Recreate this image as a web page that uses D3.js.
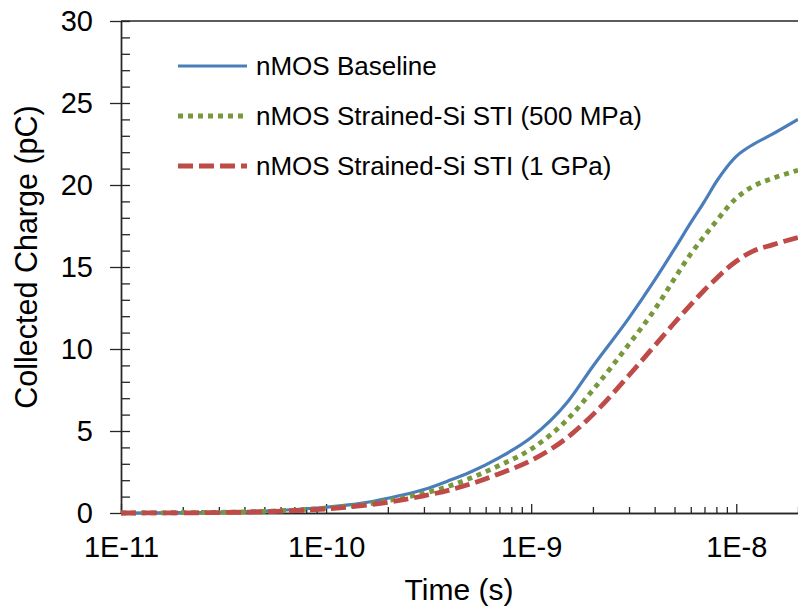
<!DOCTYPE html>
<html>
<head>
<meta charset="utf-8">
<script src="https://cdn.jsdelivr.net/npm/d3@7"></script>
<style>
  html, body { margin: 0; padding: 0; background: #fff; }
  svg { display: block; font-family: "Liberation Sans", Arial, sans-serif; }
</style>
</head>
<body>
<svg id="chart" width="798" height="611"></svg>
<script>
// Transient collected charge vs. time for three nMOS device variants
const times = [1e-11, 2e-11, 5e-11, 1e-10, 1.5e-10, 2e-10, 3e-10, 4e-10, 5e-10, 7e-10,
               1e-9, 1.5e-9, 2e-9, 3e-9, 4e-9, 5e-9, 6e-9, 7e-9, 8e-9, 9e-9,
               1e-8, 1.1e-8, 1.2e-8, 1.5e-8, 2e-8];

const baseline = [0, 0.02, 0.12, 0.35, 0.6, 0.9, 1.43, 1.99, 2.47, 3.38,
                  4.6, 6.75, 8.95, 11.9, 14.2, 16.1, 17.7, 19.0, 20.2, 21.1,
                  21.75, 22.15, 22.45, 23.1, 24.0];

const strained500 = [0, 0.02, 0.1, 0.3, 0.5, 0.75, 1.2, 1.65, 2.1, 2.9,
                     3.9, 5.7, 7.5, 10.3, 12.4, 14.3, 15.8, 16.9, 17.8, 18.6,
                     19.2, 19.6, 19.9, 20.4, 20.9];

const strained1G = [0, 0.01, 0.08, 0.25, 0.45, 0.65, 1.05, 1.4, 1.75, 2.4,
                    3.2, 4.6, 6.0, 8.4, 10.2, 11.6, 12.7, 13.6, 14.3, 14.9,
                    15.35, 15.7, 15.95, 16.35, 16.8];

const seriesNames = ["nMOS Baseline", "nMOS Strained-Si STI (500 MPa)", "nMOS Strained-Si STI (1 GPa)"];
const yTicks = [0, 5, 10, 15, 20, 25, 30];
const xTicks = [1e-11, 1e-10, 1e-9, 1e-8];
const xTickLabels = ["1E-11", "1E-10", "1E-9", "1E-8"];

const series = [
  { name: seriesNames[0], values: baseline,    color: "#4A7EBB", width: 3.2, dash: null },
  { name: seriesNames[1], values: strained500, color: "#77983C", width: 4.8, dash: "5,5" },
  { name: seriesNames[2], values: strained1G,  color: "#BE4B48", width: 4.8, dash: "15,6" }
];

const svg = d3.select("#chart");
const plotL = 121, plotR = 798, plotT = 21, plotB = 513;

const x = d3.scaleLog().domain([1e-11, 2e-8]).range([plotL, plotR]);
const y = d3.scaleLinear().domain([0, 30]).range([plotB, plotT]);

const axisColor = "#262626";

// top border line at the 30 pC level
svg.append("line")
  .attr("x1", plotL).attr("x2", plotR)
  .attr("y1", y(30)).attr("y2", y(30))
  .attr("stroke", axisColor).attr("stroke-width", 1.4);

// y axis: major ticks outside with labels
svg.append("g")
  .attr("transform", `translate(${plotL},0)`)
  .call(d3.axisLeft(y).tickValues(yTicks).tickSizeInner(11).tickSizeOuter(0).tickPadding(17)
    .tickFormat(d3.format("d")));
// y axis: minor ticks inside at every unit
svg.append("g")
  .attr("transform", `translate(${plotL},0)`)
  .call(d3.axisRight(y).tickValues(d3.range(0, 31, 1)).tickSize(9).tickSizeOuter(0).tickFormat(""));

// x axis: ticks inside (major taller than minor)
const minorX = [];
for (let p = -11; p <= -8; p++) {
  for (let m = 2; m <= 9; m++) {
    const v = m * Math.pow(10, p);
    if (v <= 2e-8) minorX.push(v);
  }
}
svg.append("g")
  .attr("transform", `translate(0,${plotB})`)
  .call(d3.axisTop(x).tickValues(minorX).tickSize(6).tickSizeOuter(0).tickFormat(""));
svg.append("g")
  .attr("transform", `translate(0,${plotB})`)
  .call(d3.axisTop(x).tickValues(xTicks).tickSize(9).tickSizeOuter(0).tickFormat(""));
// x axis labels
const xAxis = svg.append("g")
  .attr("transform", `translate(0,${plotB})`)
  .call(d3.axisBottom(x).tickValues(xTicks).tickSize(0).tickSizeOuter(0).tickPadding(23)
    .tickFormat((d, i) => xTickLabels[i]));

svg.selectAll(".domain").attr("stroke", axisColor).attr("stroke-width", 1.4);
svg.selectAll(".tick line").attr("stroke", axisColor).attr("stroke-width", 1.3);
svg.selectAll(".tick text").attr("fill", "#000").style("font-size", "29px")
  .style("font-family", "'Liberation Sans', Arial, sans-serif");
xAxis.selectAll(".domain").remove();

// axis titles
svg.append("text")
  .attr("x", 459).attr("y", 600)
  .attr("text-anchor", "middle")
  .style("font-size", "30px").attr("fill", "#000")
  .text("Time (s)");
svg.append("text")
  .attr("transform", "translate(37,257) rotate(-90)")
  .attr("text-anchor", "middle")
  .style("font-size", "30.5px").attr("fill", "#000")
  .text("Collected Charge (pC)");

// series lines
const line = d3.line()
  .x((d, i) => x(times[i]))
  .y(d => y(d))
  .curve(d3.curveMonotoneX);

series.forEach(s => {
  svg.append("path")
    .datum(s.values)
    .attr("fill", "none")
    .attr("stroke", s.color)
    .attr("stroke-width", s.width)
    .attr("stroke-dasharray", s.dash)
    .attr("stroke-linejoin", "round")
    .attr("d", line);
});

// legend
const legendY = [66, 116, 166];
const legend = svg.append("g");
series.forEach((s, i) => {
  legend.append("line")
    .attr("x1", 178).attr("x2", 247)
    .attr("y1", legendY[i]).attr("y2", legendY[i])
    .attr("stroke", s.color)
    .attr("stroke-width", s.width)
    .attr("stroke-dasharray", s.dash);
  legend.append("text")
    .attr("x", 256).attr("y", legendY[i] + 9)
    .style("font-size", "26px").attr("fill", "#000")
    .text(s.name);
});
</script>
</body>
</html>
